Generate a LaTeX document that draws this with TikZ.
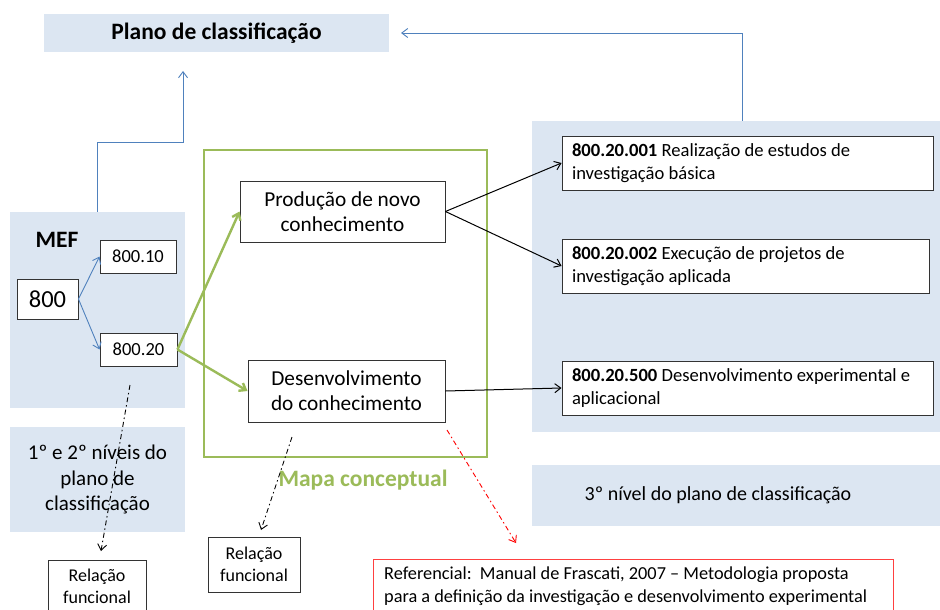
\documentclass[tikz,border=0pt]{standalone}
\usepackage{fontspec}
\setmainfont{Carlito}
\usetikzlibrary{arrows.meta}
\definecolor{lblue}{HTML}{DCE6F2}
\definecolor{mblue}{HTML}{4F81BD}
\definecolor{mgreen}{HTML}{9BBB59}
\definecolor{mred}{HTML}{FF4040}
\tikzset{
  panel/.style={fill=lblue, draw=none, inner sep=0pt, align=center},
  wbox/.style={draw=black!80, line width=0.9pt, fill=white, inner sep=0pt, align=center},
  lbox/.style={draw=black!80, line width=0.9pt, fill=white, inner sep=0pt, align=flush left},
  txt/.style={inner sep=0pt, align=center},
  barb/.style={-{Straight Barb[length=6pt,width=9pt]}},
  bluearr/.style={barb, draw=mblue, line width=0.9pt},
  greenarr/.style={barb, draw=mgreen, line width=2.4pt},
  blackarr/.style={barb, draw=black, line width=1pt},
  dashdotarr/.style={barb, line width=0.9pt, dash pattern=on 5pt off 3pt on 1.5pt off 3pt},
}
\begin{document}
\begin{tikzpicture}[x=1pt,y=-1pt]
\useasboundingbox (0,0) rectangle (940,610);
\fill[white] (0,0) rectangle (940,610);
% panels
\node[panel, minimum width=345pt, minimum height=38pt, font=\fontsize{23.5}{27}\selectfont\bfseries] (plano) at (216.5,33) {Plano de classificação};
\node[panel, minimum width=175pt, minimum height=196pt] (mef) at (97.5,310) {};
\node[font=\fontsize{23.5}{27}\selectfont\bfseries, inner sep=0pt] (meflabel) at (57,240) {MEF};
\node[panel, minimum width=175pt, minimum height=105pt, font=\fontsize{21}{25.5}\selectfont] (niveis) at (97.5,479.5) {1º e 2º níveis do\\plano de\\classificação};
\node[panel, minimum width=408pt, minimum height=311pt] (right) at (736,276.5) {};
\node[panel, minimum width=408pt, minimum height=61pt] (nivel3) at (736,495.5) {};
\node[txt, font=\fontsize{20}{24}\selectfont] (nivel3text) at (718,495.5) {3º nível do plano de classificação};
% green map
\node[draw=mgreen, line width=2.8pt, minimum width=283pt, minimum height=307pt, inner sep=0pt] (mapa) at (345.5,303.5) {};
\node[text=mgreen, font=\fontsize{23.5}{27}\selectfont\bfseries, inner sep=0pt] (mapalabel) at (363,480) {Mapa conceptual};
% MEF boxes
\node[wbox, minimum width=61pt, minimum height=40pt, font=\fontsize{24.5}{28}\selectfont] (n800) at (47.5,299) {800};
\node[wbox, minimum width=76pt, minimum height=33pt, font=\fontsize{18.5}{22}\selectfont] (n10) at (138,256.5) {800.10};
\node[wbox, minimum width=77pt, minimum height=33pt, font=\fontsize{18.5}{22}\selectfont] (n20) at (138.5,349.5) {800.20};
% concept boxes
\node[wbox, minimum width=205pt, minimum height=61pt, font=\fontsize{21.3}{25}\selectfont] (prod) at (342.5,211.5) {Produção de novo\\conhecimento};
\node[wbox, minimum width=197pt, minimum height=62pt, font=\fontsize{21.3}{25}\selectfont] (desen) at (346.5,391) {Desenvolvimento\\do conhecimento};
% right boxes
\node[lbox, minimum width=371pt, minimum height=54pt, text width=351pt, font=\fontsize{18.6}{23}\selectfont] (r1) at (747.5,163) {\textbf{800.20.001} Realização de estudos de\\investigação básica};
\node[lbox, minimum width=367pt, minimum height=54pt, text width=347pt, font=\fontsize{18.6}{23}\selectfont] (r2) at (745.5,266) {\textbf{800.20.002} Execução de projetos de\\investigação aplicada};
\node[lbox, minimum width=371pt, minimum height=54pt, text width=351pt, font=\fontsize{18.6}{23}\selectfont] (r3) at (747.5,388) {\textbf{800.20.500} Desenvolvimento experimental e\\aplicacional};
% bottom boxes
\node[wbox, minimum width=98pt, minimum height=60pt, anchor=north] (rel1) at (97,560) {};
\node[txt, font=\fontsize{18}{22}\selectfont] (rel1text) at (97,586) {Relação\\funcional};
\node[wbox, minimum width=92pt, minimum height=55pt, font=\fontsize{18}{22}\selectfont] (rel2) at (254,564.5) {Relação\\funcional};
\node[lbox, draw=mred, minimum width=520pt, minimum height=62pt, anchor=north] (ref) at (633,559) {};
\node[txt, align=flush left, anchor=north west, font=\fontsize{18.3}{23}\selectfont] (reftext) at (384,567) {Referencial:\ \ Manual de Frascati, 2007 – Metodologia proposta\\para a definição da investigação e desenvolvimento experimental};
% blue connectors
\coordinate (upend) at (183,71);
\draw[bluearr] (mef.north -| 97,0) |- (183,142) -- (upend);
\coordinate (leftend) at (401,33);
\draw[bluearr] (right.north -| 742,0) |- (leftend);
\draw[bluearr] (n800.east) -- (n10.west);
\draw[bluearr] (n800.east) -- (n20.west);
% green connectors
\draw[greenarr] (n20.east) -- (prod.west);
\draw[greenarr] (n20.east) -- (desen.west);
% black connectors
\draw[blackarr] (prod.east) -- (r1.west);
\draw[blackarr] (prod.east) -- (r2.west);
\draw[blackarr] (desen.east) -- (r3.west);
% dash-dot connectors
\coordinate (d1s) at (130,385);
\coordinate (d1e) at (101,551);
\draw[dashdotarr] (d1s) -- (d1e);
\coordinate (d2s) at (292,437);
\coordinate (d2e) at (261,530);
\draw[dashdotarr] (d2s) -- (d2e);
\coordinate (d3s) at (447,430);
\coordinate (d3e) at (516,543);
\draw[dashdotarr, draw=red] (d3s) -- (d3e);
\end{tikzpicture}
\end{document}
